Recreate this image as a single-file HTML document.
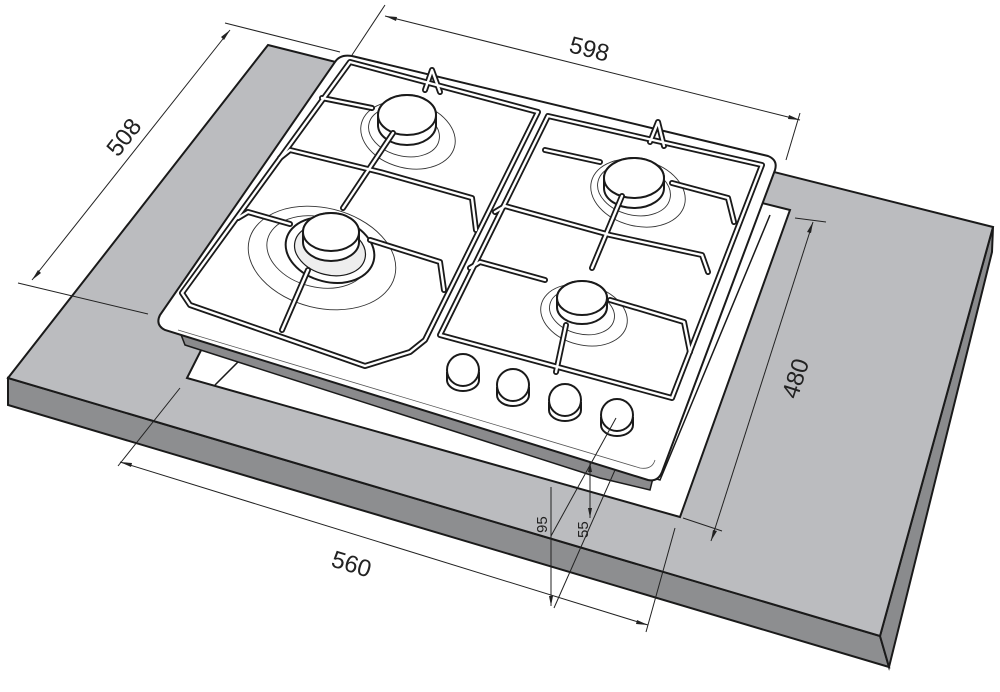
<!DOCTYPE html>
<html><head><meta charset="utf-8"><style>
html,body{margin:0;padding:0;background:#fff;width:1000px;height:692px;overflow:hidden}
svg{display:block}
text{font-family:"Liberation Sans",sans-serif;fill:#222}
</style></head><body>
<svg width="1000" height="692" viewBox="0 0 1000 692" xmlns="http://www.w3.org/2000/svg">
<!-- countertop -->
<polygon points="8,378 880,636 889,667 8,405" fill="#8d8e90" stroke="#1a1a1a" stroke-width="2"/>
<polygon points="880,636 993,227 992,252 889,667" fill="#8a8b8d" stroke="#1a1a1a" stroke-width="2"/>
<polygon points="268,45 993,227 880,636 8,378" fill="#bbbcbf" stroke="#1a1a1a" stroke-width="2"/>
<!-- cutout -->
<polygon points="187,378 680,517 790,210 330,95" fill="#fff" stroke="#1a1a1a" stroke-width="2"/>
<polyline points="215,385 240,360 660,480 770,215" fill="none" stroke="#1a1a1a" stroke-width="1.5"/>
<!-- hob thickness -->
<polygon points="180,332 655,470 650,490 600,478 185,345" fill="#8a8a8c" stroke="#1a1a1a" stroke-width="1.5"/>
<!-- hob plate -->
<path d="M352,56 L768,156 Q778,160 775,170 L662,472 Q658,482 648,480 L165,330 Q155,325 160,315 L335,62 Q340,54 352,56 Z" fill="#fff" stroke="#1a1a1a" stroke-width="2"/>
<path d="M178,330 L640,468 Q652,470 655,460" fill="none" stroke="#555" stroke-width="0.8"/>
<!-- burner halos -->
<g fill="none" stroke="#333" stroke-width="0.9">
<ellipse cx="408" cy="135" rx="48" ry="33" transform="rotate(14 408 135)"/>
<ellipse cx="404" cy="132" rx="36" ry="24" transform="rotate(14 404 132)"/>
<ellipse cx="322" cy="258" rx="75" ry="50" transform="rotate(14 322 258)"/>
<ellipse cx="318" cy="252" rx="52" ry="35" transform="rotate(14 318 252)"/>
<ellipse cx="638" cy="193" rx="48" ry="33" transform="rotate(14 638 193)"/>
<ellipse cx="634" cy="190" rx="37" ry="25" transform="rotate(14 634 190)"/>
<ellipse cx="584" cy="315" rx="44" ry="30" transform="rotate(14 584 315)"/>
<ellipse cx="582" cy="312" rx="33" ry="22" transform="rotate(14 582 312)"/>
</g>
<!-- burner caps -->
<g stroke="#1a1a1a" stroke-width="2" fill="#fff">
<ellipse cx="330" cy="250" rx="45" ry="32" transform="rotate(14 330 250)"/>
<ellipse cx="330" cy="250" rx="36" ry="25" fill="#eee" stroke-width="1.2" transform="rotate(14 330 250)"/>
<path d="M378,115 a29,20 0 0 1 58,0 v10 a29,20 0 0 1 -58,0 Z"/><ellipse cx="407" cy="115" rx="29" ry="20"/>
<path d="M303,232 a28,19 0 0 1 56,0 v10 a28,19 0 0 1 -56,0 Z"/><ellipse cx="331" cy="232" rx="28" ry="19"/>
<path d="M604,178 a30,20 0 0 1 60,0 v10 a30,20 0 0 1 -60,0 Z"/><ellipse cx="634" cy="178" rx="30" ry="20"/>
<path d="M557,298 a25,17 0 0 1 50,0 v9 a25,17 0 0 1 -50,0 Z"/><ellipse cx="582" cy="298" rx="25" ry="17"/>
</g>
<!-- grates -->
<g fill="none" stroke-linecap="round" stroke-linejoin="round">
<g stroke="#1a1a1a" stroke-width="6">
<path d="M350,62 L538,112 L425,340 L410,352 L365,366 L190,305 L182,293 Z"/>
<path d="M548,116 L762,165 L672,398 L440,335 Z"/>
<path d="M322,98 L372,108"/><path d="M280,158 L290,150 L380,172 L472,198 L476,230"/>
<path d="M238,218 L248,212 L290,224"/><path d="M370,240 L440,262 L444,290"/>
<path d="M393,133 L343,208"/><path d="M308,270 L282,330"/>
<path d="M545,150 L600,162"/><path d="M495,212 L505,206 L610,235 L702,255 L708,272"/>
<path d="M470,268 L480,262 L545,280"/><path d="M610,300 L684,322 L690,352"/>
<path d="M622,196 L592,268"/><path d="M566,325 L556,372"/>
<path d="M672,183 L728,198 L734,222"/>
<path d="M425,90 L432,70 L440,92"/><path d="M650,142 L658,122 L664,146"/>
</g>
<g stroke="#fff" stroke-width="2.4">
<path d="M350,62 L538,112 L425,340 L410,352 L365,366 L190,305 L182,293 Z"/>
<path d="M548,116 L762,165 L672,398 L440,335 Z"/>
<path d="M322,98 L372,108"/><path d="M280,158 L290,150 L380,172 L472,198 L476,230"/>
<path d="M238,218 L248,212 L290,224"/><path d="M370,240 L440,262 L444,290"/>
<path d="M393,133 L343,208"/><path d="M308,270 L282,330"/>
<path d="M545,150 L600,162"/><path d="M495,212 L505,206 L610,235 L702,255 L708,272"/>
<path d="M470,268 L480,262 L545,280"/><path d="M610,300 L684,322 L690,352"/>
<path d="M622,196 L592,268"/><path d="M566,325 L556,372"/>
<path d="M672,183 L728,198 L734,222"/>
<path d="M425,90 L432,70 L440,92"/><path d="M650,142 L658,122 L664,146"/>
</g>
</g>
<!-- knobs -->
<g stroke="#1a1a1a" stroke-width="2" fill="#fff">
<path d="M447,372 v8 a16,11 0 0 0 32,0 v-8"/><circle cx="463" cy="370" r="16"/>
<path d="M497,387 v8 a16,11 0 0 0 32,0 v-8"/><circle cx="513" cy="385" r="16"/>
<path d="M549,402 v8 a16,11 0 0 0 32,0 v-8"/><circle cx="565" cy="400" r="16"/>
<path d="M601,417 v8 a16,11 0 0 0 32,0 v-8"/><circle cx="617" cy="415" r="16"/>
</g>
<!-- dimension lines -->
<g stroke="#222" stroke-width="1" fill="none">
<line x1="225" y1="23" x2="340" y2="52"/><line x1="18" y1="283" x2="148" y2="314"/>
<line x1="230" y1="30" x2="32" y2="280"/>
<line x1="385" y1="5" x2="352" y2="55"/><line x1="800" y1="113" x2="786" y2="160"/>
<line x1="385" y1="16" x2="800" y2="120"/>
<line x1="795" y1="218" x2="826" y2="222"/><line x1="683" y1="518" x2="722" y2="531"/>
<line x1="813" y1="222" x2="711" y2="541"/>
<line x1="180" y1="388" x2="118" y2="466"/><line x1="675" y1="528" x2="646" y2="632"/>
<line x1="120" y1="462" x2="648" y2="625"/>
<line x1="551" y1="487" x2="551" y2="606"/>
<line x1="590" y1="462" x2="590" y2="518"/>
<line x1="616" y1="418" x2="551" y2="536"/>
<line x1="615" y1="470" x2="554" y2="608"/>
</g>
<g fill="#222">
<polygon points="230,30 224,40 221,37"/><polygon points="32,280 38,270 41,273"/>
<polygon points="385,16 397,17 396,21"/><polygon points="800,120 788,119 789,115"/>
<polygon points="813,222 811,233 807,232"/><polygon points="711,541 713,530 717,531"/>
<polygon points="120,462 132,463 131,467"/><polygon points="648,625 636,624 637,620"/>
<polygon points="551,606 549,596 553,596"/><polygon points="590,462 592,472 588,472"/>
<polygon points="590,518 588,508 592,508"/>
</g>
<text x="0" y="0" font-size="24" transform="translate(118,158) rotate(-52)">508</text>
<text x="0" y="0" font-size="24" transform="translate(568,52) rotate(14)">598</text>
<text x="0" y="0" font-size="24" transform="translate(797,400) rotate(-72)">480</text>
<text x="0" y="0" font-size="24" transform="translate(330,566) rotate(17)">560</text>
<text x="0" y="0" font-size="15" transform="translate(547,533) rotate(-90)">95</text>
<text x="0" y="0" font-size="15" transform="translate(588,538) rotate(-90)">55</text>
</svg>
</body></html>
